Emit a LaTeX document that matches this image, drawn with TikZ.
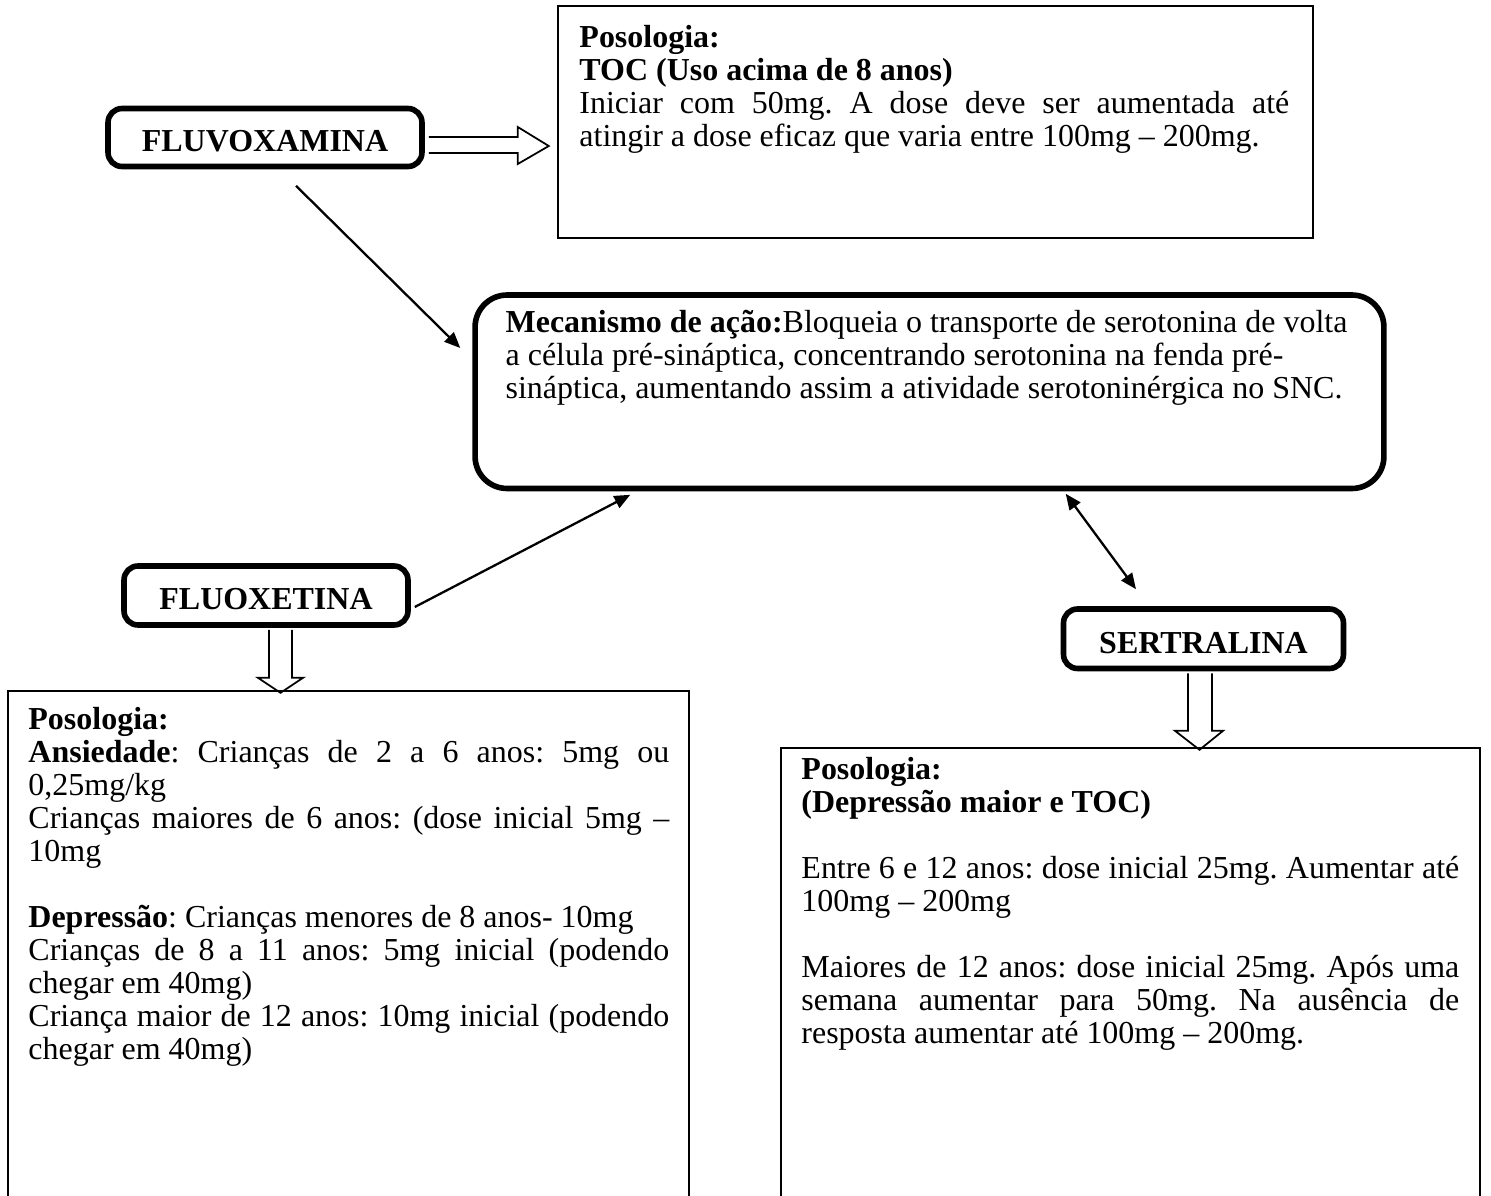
\documentclass[tikz,border=0pt]{standalone}
\usepackage{fontspec}
\setmainfont{Liberation Serif}
\usetikzlibrary{positioning,calc,arrows.meta}
\frenchspacing
\newcommand{\justline}[1]{\makebox[\hsize][s]{#1}\\}

\begin{document}
\begin{tikzpicture}[x=0.02cm,y=-0.02cm,
    every node/.style={font=\fontsize{18.2pt}{18.8pt}\selectfont},
    drugnode/.style={draw,line width=3.2pt,rounded corners=0.28cm,font=\fontsize{18.2pt}{18.8pt}\selectfont\bfseries,text height=16.5pt,text depth=0pt},
    mechnode/.style={draw,line width=3.2pt,rounded corners=0.64cm},
    infonode/.style={draw,line width=1.1pt},
    txtnode/.style={anchor=base west,inner sep=0pt,align=justify},
    arr/.style={line width=1.3pt,-{Triangle[length=9pt,width=7.5pt]}},
    dblarr/.style={line width=1.3pt,{Triangle[length=9pt,width=7.5pt]}-{Triangle[length=9pt,width=7.5pt]}},
    hollow/.style={line width=1pt,line join=miter}
    ]
    \useasboundingbox (0,0) rectangle (1491,1196);

    % the boxes
    \node (fluvo) [drugnode,minimum width=6.28cm,minimum height=1.16cm] at (265,137.5) {FLUVOXAMINA};
    \node (toc) [infonode,minimum width=15.1cm,minimum height=4.64cm] at (935.5,122) {};
    \node (mech) [mechnode,minimum width=18.18cm,minimum height=3.87cm] at (929.5,391.75) {};
    \node (fluox) [drugnode,minimum width=5.68cm,minimum height=1.18cm] at (266,595.5) {FLUOXETINA};
    \node (sertr) [drugnode,minimum width=5.6cm,minimum height=1.19cm] at (1203.5,638.75) {SERTRALINA};
    \node (leftbox) [infonode,minimum width=13.62cm,minimum height=10.39cm] at (348.5,950.25) {};
    \node (rightbox) [infonode,minimum width=13.98cm,minimum height=9.24cm] at (1130.5,979) {};

    % the texts
    \node (toctext) [txtnode,text width=14.2cm] at ($(toc.north west)+(22,42)$) {%
      \textbf{Posologia:}\\
      \textbf{TOC (Uso acima de 8 anos)}\\
      \justline{Iniciar com 50mg. A dose deve ser aumentada até}
      atingir a dose eficaz que varia entre 100mg – 200mg.};
    \node (mechtext) [txtnode,text width=17.6cm] at ($(mech.north west)+(33,40)$) {%
      \textbf{Mecanismo de ação:}Bloqueia o transporte de serotonina de volta\\
      a célula pré-sináptica, concentrando serotonina na fenda pré-\\
      sináptica, aumentando assim a atividade serotoninérgica no SNC.};
    \node (lefttext) [txtnode,text width=12.82cm] at ($(leftbox.north west)+(21,39.5)$) {%
      \textbf{Posologia:}\\
      \justline{\textbf{Ansiedade}: Crianças de 2 a 6 anos: 5mg ou}
      0,25mg/kg\\
      \justline{Crianças maiores de 6 anos: (dose inicial 5mg –}
      10mg\\[18.8pt]
      \textbf{Depressão}: Crianças menores de 8 anos- 10mg\\
      \justline{Crianças de 8 a 11 anos: 5mg inicial (podendo}
      chegar em 40mg)\\
      \justline{Criança maior de 12 anos: 10mg inicial (podendo}
      chegar em 40mg)};
    \node (righttext) [txtnode,text width=13.16cm] at ($(rightbox.north west)+(21,32)$) {%
      \textbf{Posologia:}\\
      \textbf{(Depressão maior e TOC)}\\[18.8pt]
      \justline{Entre 6 e 12 anos: dose inicial 25mg. Aumentar até}
      100mg – 200mg\\[18.8pt]
      \justline{Maiores de 12 anos: dose inicial 25mg. Após uma}
      \justline{semana aumentar para 50mg. Na ausência de}
      resposta aumentar até 100mg – 200mg.};

    % the hollow arrows
    \draw[hollow,shift={(fluvo.east)}] (4,-0.5) -- (93,-0.5) -- (93,-10.5) -- (124,8.5) -- (93,26.5) -- (93,15.5) -- (4,15.5);
    \draw[hollow,shift={(fluox.south)}] (3,2) -- (3,50) -- (-8,50) -- (14.5,65) -- (37,50) -- (26,50) -- (26,2);
    \draw[hollow,shift={(sertr.south)}] (-15.5,2) -- (-15.5,59.5) -- (-28.5,59.5) -- (-4,78.5) -- (19.5,59.5) -- (8.5,59.5) -- (8.5,2);

    % the edges
    \draw[arr] ($(fluvo.south)+(31,16.5)$) -- ($(mech.west)+(-12,-43.75)$);
    \draw[arr] ($(fluox.east)+(4,11.5)$) -- ($(mech.south west)+(158,3.5)$);
    \draw[dblarr] ($(mech.south east)+(-321,2.5)$) -- ($(sertr.north)+(-67.5,-17)$);
\end{tikzpicture}
\end{document}
